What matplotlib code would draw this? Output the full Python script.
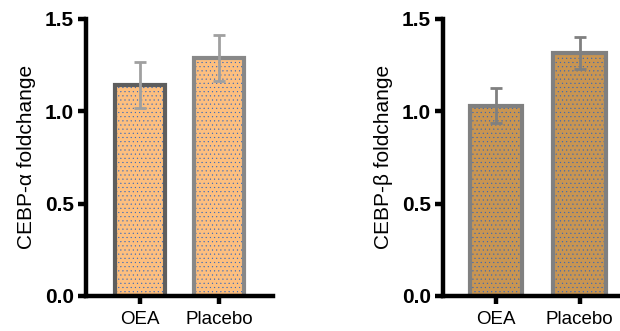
import matplotlib.pyplot as plt

plt.rcParams['font.family'] = ['Liberation Sans', 'DejaVu Sans']
plt.rcParams['hatch.linewidth'] = 0.3

# Данные
groups = ['OEA', 'Placebo']
alpha_mean = [1.14, 1.29]
alpha_err = [0.125, 0.125]
beta_mean = [1.03, 1.315]
beta_err = [0.095, 0.085]

fig = plt.figure(figsize=(6.2, 3.31), dpi=100)
ax1 = fig.add_axes([0.139, 0.106, 0.302, 0.837])
ax2 = fig.add_axes([0.715, 0.106, 0.29, 0.837])


def draw(ax, means, errs, fill, edges, errcolor, label, xlim):
    x = list(range(len(means)))
    # заливка с точками
    ax.bar(x, means, width=0.63, color=fill, edgecolor='#2f66c0', linewidth=0,
           hatch='....', zorder=1)
    # рамка столбцов
    ax.bar(x, means, width=0.63, color='none', edgecolor=edges, linewidth=3,
           zorder=2)
    ax.errorbar(x, means, yerr=errs, fmt='none', ecolor=errcolor, elinewidth=2,
                capsize=4, capthick=2, zorder=3)
    ax.set_xlim(*xlim)
    ax.set_ylim(0, 1.5)
    ax.set_yticks([0.0, 0.5, 1.0, 1.5])
    ax.set_yticklabels(['0.0', '0.5', '1.0', '1.5'], fontweight='bold', fontsize=15)
    ax.set_xticks(x)
    ax.set_xticklabels(groups, fontsize=13.5)
    ax.set_ylabel(label, fontsize=15, labelpad=6)
    for s in ['top', 'right']:
        ax.spines[s].set_visible(False)
    for s in ['left', 'bottom']:
        ax.spines[s].set_linewidth(3.2)
    ax.tick_params(axis='both', width=3.2, length=6, direction='out', pad=3)
    ax.tick_params(axis='x', pad=5)
    ax.spines['bottom'].set_zorder(4)


draw(ax1, alpha_mean, alpha_err, '#fdbf7f', ['#5e5e5e', '#888888'], '#a0a0a0',
     'CEBP-α foldchange', (-0.68, 1.68))
draw(ax2, beta_mean, beta_err, '#c89552', ['#808080', '#808080'], '#808080',
     'CEBP-β foldchange', (-0.63, 1.52))

fig.savefig('out.png', dpi=100)
